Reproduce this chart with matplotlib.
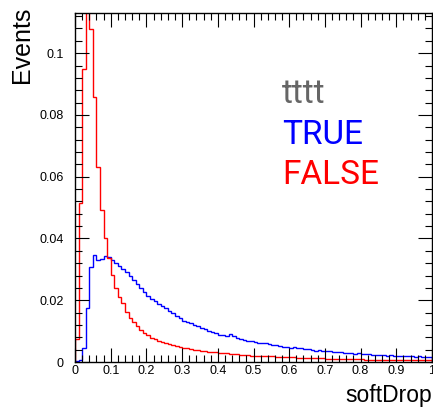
import numpy as np
from matplotlib import pyplot as plt
from matplotlib.ticker import MultipleLocator

# bin contents, 100 bins from 0 to 1
falseVals = [0.0075, 0.0516, 0.0949, 0.125, 0.1078, 0.0857, 0.0631, 0.0493, 0.0401, 0.0336,
             0.0282, 0.0240, 0.0212, 0.0190, 0.0162, 0.0143, 0.0128, 0.0115, 0.0103, 0.0094,
             0.0087, 0.0079, 0.0073, 0.0068, 0.0064, 0.0060, 0.0057, 0.0054, 0.0051, 0.0049,
             0.0046, 0.0044, 0.0042, 0.0040, 0.0038, 0.0036, 0.0035, 0.0033, 0.0032, 0.0031,
             0.0030, 0.0029, 0.0028, 0.0027, 0.0026, 0.0025, 0.0024, 0.0023, 0.0022, 0.0021,
             0.0020, 0.0020, 0.0019, 0.0019, 0.0018, 0.0018, 0.0017, 0.0017, 0.0016, 0.0016,
             0.0015, 0.0015, 0.0014, 0.0014, 0.0014, 0.0013, 0.0013, 0.0012, 0.0012, 0.0012,
             0.0011, 0.0011, 0.0011, 0.0010, 0.0010, 0.0010, 0.0010, 0.0009, 0.0009, 0.0009,
             0.0009, 0.0008, 0.0008, 0.0008, 0.0008, 0.0008, 0.0007, 0.0007, 0.0007, 0.0007,
             0.0007, 0.0006, 0.0006, 0.0006, 0.0006, 0.0006, 0.0005, 0.0005, 0.0005, 0.0005]

trueVals = [0.0002, 0.0007, 0.0044, 0.0174, 0.0307, 0.0345, 0.0331, 0.0335, 0.0343, 0.0340,
            0.0331, 0.0322, 0.0312, 0.0300, 0.0290, 0.0279, 0.0266, 0.0252, 0.0238, 0.0228,
            0.0214, 0.0205, 0.0199, 0.0189, 0.0180, 0.0175, 0.0166, 0.0160, 0.0149, 0.0141,
            0.0134, 0.0131, 0.0125, 0.0119, 0.0116, 0.0110, 0.0106, 0.0100, 0.0096, 0.0093,
            0.0088, 0.0089, 0.0085, 0.0090, 0.0083, 0.0079, 0.0075, 0.0072, 0.0069, 0.0068,
            0.0064, 0.0063, 0.0060, 0.0061, 0.0057, 0.0055, 0.0054, 0.0052, 0.0050, 0.0049,
            0.0046, 0.0047, 0.0044, 0.0045, 0.0041, 0.0042, 0.0039, 0.0037, 0.0038, 0.0035,
            0.0034, 0.0034, 0.0032, 0.0031, 0.0032, 0.0029, 0.0030, 0.0028, 0.0027, 0.0028,
            0.0026, 0.0025, 0.0025, 0.0024, 0.0023, 0.0024, 0.0022, 0.0021, 0.0022, 0.0020,
            0.0020, 0.0019, 0.0020, 0.0018, 0.0018, 0.0017, 0.0018, 0.0016, 0.0016, 0.0015]

xMin, xMax, nBins = 0.0, 1.0, 100
yMax = 0.113
xTicks = [0, 0.1, 0.2, 0.3, 0.4, 0.5, 0.6, 0.7, 0.8, 0.9, 1]
xTickLabels = ["0", "0.1", "0.2", "0.3", "0.4", "0.5", "0.6", "0.7", "0.8", "0.9", "1"]
yTicks = [0, 0.02, 0.04, 0.06, 0.08, 0.1]
yTickLabels = ["0", "0.02", "0.04", "0.06", "0.08", "0.1"]

plt.rcParams['font.family'] = ['Liberation Sans', 'DejaVu Sans']

fig = plt.figure(figsize=(4.33, 4.11), dpi=100)
ax = fig.add_axes([75/433, 49/411, 357/433, 349/411])

edges = np.linspace(xMin, xMax, nBins + 1)
ax.stairs(trueVals, edges, color=(0, 0, 1), lw=1)
ax.stairs(falseVals, edges, color=(1, 0, 0), lw=1)

ax.set_xlim(xMin, xMax)
ax.set_ylim(0, yMax)
ax.set_xticks(xTicks)
ax.set_xticklabels(xTickLabels)
ax.set_yticks(yTicks)
ax.set_yticklabels(yTickLabels)
ax.xaxis.set_minor_locator(MultipleLocator(0.02))
ax.yaxis.set_minor_locator(MultipleLocator(0.004))
ax.tick_params(which='both', direction='in', top=True, right=True, labelsize=9, width=0.8)
ax.tick_params(which='major', length=10)
ax.tick_params(which='minor', length=5)
ax.tick_params(axis='y', pad=8)
ax.tick_params(axis='x', pad=2)
for s in ax.spines.values():
    s.set_linewidth(1)

fig.text(22/433, 1 - 7/411, "Events", rotation=90, ha='center', va='top', fontsize=18)
fig.text(432/433, 1 - 395/411, "softDrop", ha='right', va='center', fontsize=16.5)

ax.text(0.58, 0.741, "tttt", transform=ax.transAxes, color='#666666', fontsize=24, family='Roboto')
ax.text(0.58, 0.626, "TRUE", transform=ax.transAxes, color=(0, 0, 1), fontsize=24, family='Roboto')
ax.text(0.58, 0.511, "FALSE", transform=ax.transAxes, color=(1, 0, 0), fontsize=24, family='Roboto')

fig.savefig("out.png", dpi=100)
